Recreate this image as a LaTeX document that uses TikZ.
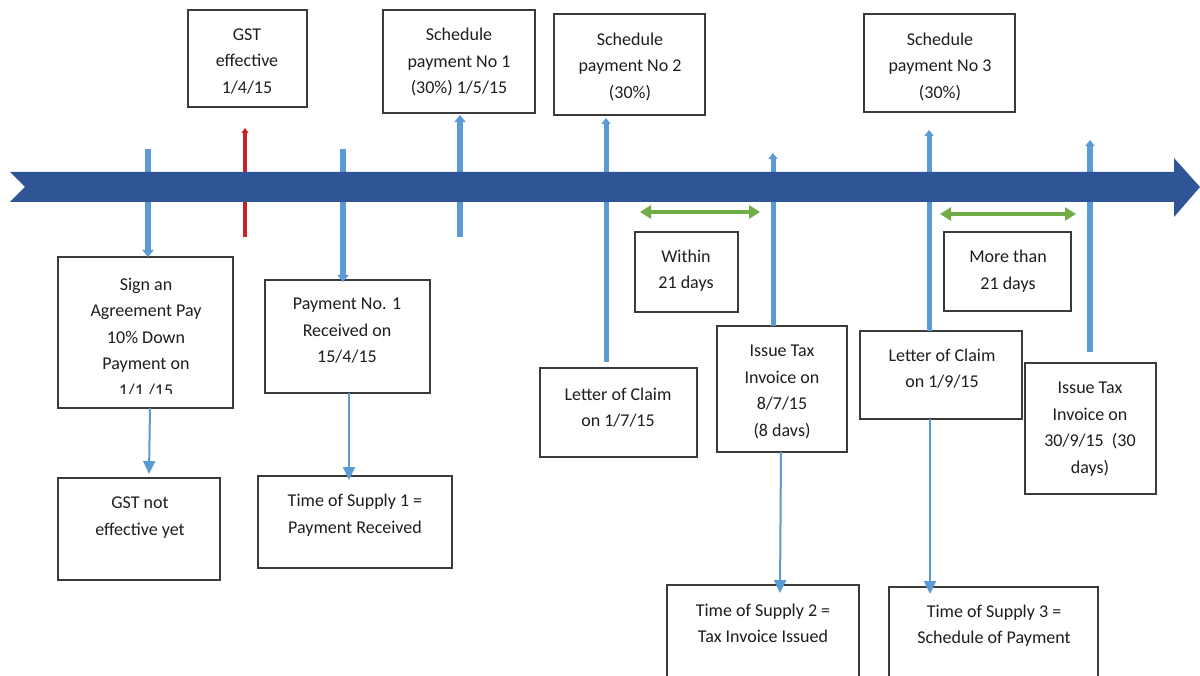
\documentclass[tikz,border=0pt]{standalone}
\usepackage{fontspec}
\setmainfont{Carlito}
\usetikzlibrary{arrows.meta}
\definecolor{bandblue}{HTML}{2F5597}
\definecolor{mblue}{HTML}{5B9BD5}
\definecolor{mred}{HTML}{C9202A}
\definecolor{mgreen}{HTML}{70AD47}
\definecolor{boxline}{HTML}{3A3A3A}
\definecolor{txtc}{HTML}{1E1E1E}
\tikzset{
  box/.style={draw=boxline, line width=1.6pt, fill=white, inner sep=0pt, outer sep=0pt},
  txt/.style={align=center, inner sep=0pt, text=txtc, font=\fontsize{18}{26.5}\selectfont},
  marker/.style={draw=mblue, line width=6.5pt},
  thinarrow/.style={draw=mblue, line width=2pt, -{Triangle[width=12pt,length=13pt]}},
  greenarrow/.style={draw=mgreen, line width=4pt, {Triangle[width=13pt,length=11pt]}-{Triangle[width=13pt,length=11pt]}},
}
\begin{document}
\begin{tikzpicture}[x=1pt,y=-1pt]
\useasboundingbox (0,0) rectangle (1200,676);
\clip (0,0) rectangle (1200,676);
\fill[white] (0,0) rectangle (1200,676);

% boxes
\node[box, minimum width=119pt, minimum height=97pt] (gst) at (247.5,58.5) {};
\node[box, minimum width=152pt, minimum height=103pt] (sch1) at (459,61.5) {};
\node[box, minimum width=151pt, minimum height=101pt] (sch2) at (629.5,64.5) {};
\node[box, minimum width=151pt, minimum height=98pt] (sch3) at (939.5,63) {};
\node[box, minimum width=103pt, minimum height=80pt] (within) at (686.5,272) {};
\node[box, minimum width=127pt, minimum height=79pt] (more) at (1007.5,271.5) {};
\node[box, minimum width=175pt, minimum height=151pt] (sign) at (145.5,332.5) {};
\node[box, minimum width=165pt, minimum height=113pt] (pay1) at (347.5,336.5) {};
\node[box, minimum width=162pt, minimum height=102pt] (gstnot) at (139,529) {};
\node[box, minimum width=194pt, minimum height=92pt] (tos1) at (355,522) {};
\node[box, minimum width=157pt, minimum height=89pt] (loc1) at (618.5,412.5) {};
\node[box, minimum width=130pt, minimum height=126pt] (inv1) at (782,389) {};
\node[box, minimum width=162pt, minimum height=88pt] (loc2) at (941,375) {};
\node[box, minimum width=131pt, minimum height=131pt] (inv2) at (1090.5,428.5) {};
\node[box, minimum width=192pt, minimum height=115pt] (tos2) at (763,642.5) {};
\node[box, minimum width=209pt, minimum height=113pt] (tos3) at (993.5,643.5) {};

% texts
\node[txt] (gstT) at (247,61.5) {GST\\effective\\1/4/15};
\node[txt] (sch1T) at (459,62.5) {Schedule\\payment No 1\\(30\%) 1/5/15};
\node[txt] (sch2T) at (630,67) {Schedule\\payment No 2\\(30\%)};
\node[txt] (sch3T) at (940,67) {Schedule\\payment No 3\\(30\%)};
\node[txt] (withinT) at (686,270.5) {Within\\21 days};
\node[txt] (moreT) at (1008,271) {More than\\21 days};
\begin{scope}
  \clip (58,257) rectangle (233,393.5);
  \node[txt] (signT) at (146,337.5) {Sign an\\Agreement Pay\\10\% Down\\Payment on\\1/1 /15};
\end{scope}
\node[txt] (pay1T) at (347,331) {Payment No. 1\\Received on\\15/4/15};
\node[txt] (gstnotT) at (140,517.5) {GST not\\effective yet};
\node[txt] (tos1T) at (355,515) {Time of Supply 1 =\\Payment Received};
\node[txt] (loc1T) at (618,407.5) {Letter of Claim\\on 1/7/15};
\node[txt] (inv1T) at (782,392) {Issue Tax\\Invoice on\\8/7/15\\(8 davs)};
\node[txt] (loc2T) at (942,368.5) {Letter of Claim\\on 1/9/15};
\node[txt] (inv2T) at (1090,429) {Issue Tax\\Invoice on\\30/9/15~ (30\\days)};
\node[txt] (tos2T) at (763,623.5) {Time of Supply 2 =\\Tax Invoice Issued};
\node[txt] (tos3T) at (994,625.5) {Time of Supply 3 =\\Schedule of Payment};

% marker coordinates
\coordinate (m1) at (148,149);
\coordinate (r1) at (245,237);
\coordinate (r2) at (245,128);
\coordinate (m3) at (343,149);
\coordinate (m4) at (460,237);
\coordinate (m5a) at (606,362);
\coordinate (m5b) at (606,118);
\coordinate (m6) at (773,153);
\coordinate (m7) at (929,130);
\coordinate (m8a) at (1090,352);
\coordinate (m8b) at (1090,140);

% markers
\draw[marker, -{Triangle[width=11pt,length=7pt]}] (m1) -- (m1 |- sign.north);
\draw[draw=mred, line width=3.5pt, -{Triangle[width=7pt,length=5pt]}] (r1) -- (r2);
\draw[marker, -{Triangle[width=11pt,length=7pt]}] (m3) -- ([yshift=-2pt]m3 |- pay1.north);
\draw[marker, -{Triangle[width=11pt,length=7pt]}] (m4) -- ([yshift=-2pt]m4 |- sch1.south);
\draw[marker, line width=5pt, -{Triangle[width=9pt,length=6pt]}] (m5a) -- (m5b);
\draw[marker, line width=5pt, -{Triangle[width=9pt,length=6pt]}] (m6 |- inv1.north) -- (m6);
\draw[marker, line width=5pt, -{Triangle[width=9pt,length=6pt]}] (m7 |- loc2.north) -- (m7);
\draw[marker, line width=5.5pt, -{Triangle[width=9pt,length=6pt]}] (m8a) -- (m8b);

% main band
\fill[bandblue] (10,172) -- (1174,172) -- (1174,158) -- (1200,187) -- (1174,217) -- (1174,202) -- (10,202) -- (25,187) -- cycle;

% green spans
\coordinate (g1a) at (640,212);
\coordinate (g1b) at (760,212);
\coordinate (g2a) at (940,214);
\coordinate (g2b) at (1076,214);
\draw[greenarrow] (g1a) -- (g1b);
\draw[greenarrow] (g2a) -- (g2b);

% thin arrows
\draw[thinarrow] ([xshift=4.5pt]sign.south) -- ([xshift=10pt,yshift=4pt]gstnot.north);
\draw[thinarrow] ([xshift=1.5pt]pay1.south) -- ([xshift=-6pt,yshift=-4pt]tos1.north);
\draw[thinarrow] ([xshift=-1pt]inv1.south) -- ([xshift=17pt,yshift=-8pt]tos2.north);
\draw[thinarrow] ([xshift=-11pt]loc2.south) -- ([xshift=-63.5pt,yshift=-7pt]tos3.north);
\end{tikzpicture}
\end{document}
